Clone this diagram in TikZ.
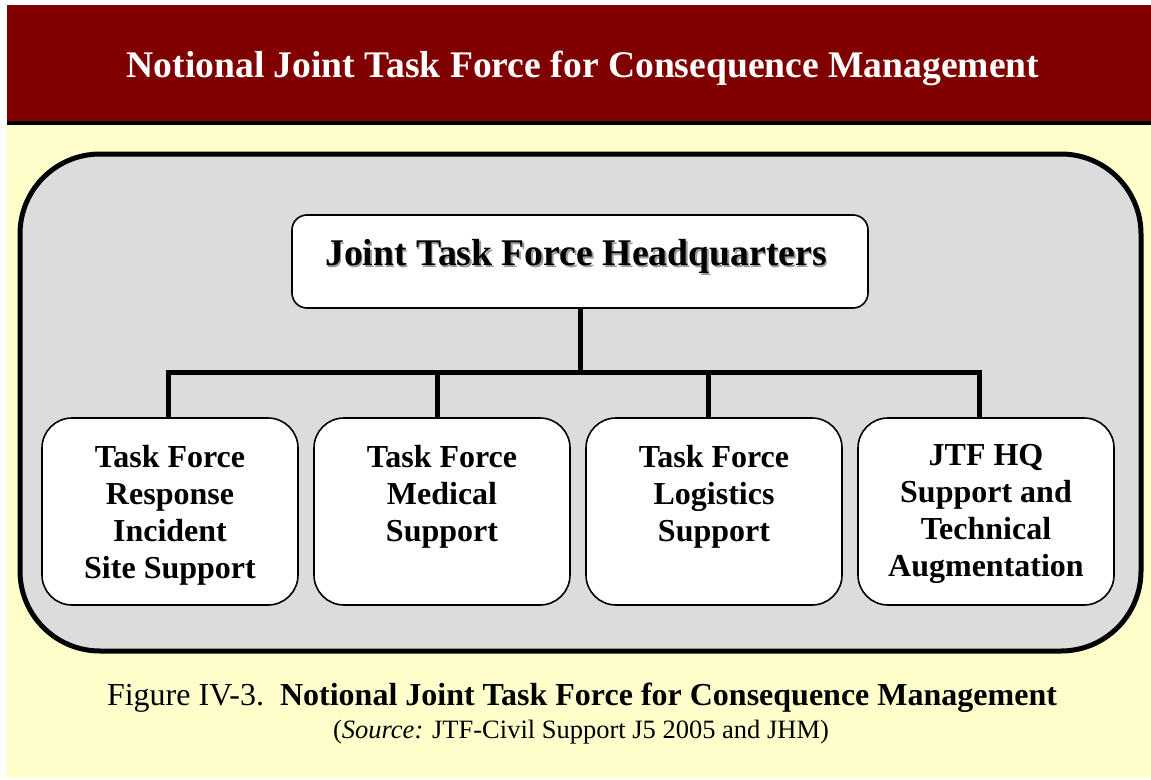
\documentclass[tikz,border=0pt]{standalone}
\usepackage{fontspec}
\setmainfont{Liberation Serif}
\definecolor{barred}{HTML}{800000}
\definecolor{bgyellow}{HTML}{FFFFCC}
\definecolor{panelgray}{HTML}{DCDCDC}
\begin{document}
\begin{tikzpicture}[x=1pt,y=-1pt,
  titletext/.style={text=white,font=\bfseries\fontsize{37.6}{45}\selectfont,inner sep=0pt},
  panelbox/.style={draw=black,line width=5pt,fill=panelgray,rounded corners=80pt,minimum width=1121pt,minimum height=497pt,inner sep=0pt},
  hqbox/.style={draw=black,line width=1.6pt,fill=white,rounded corners=15pt,minimum width=576pt,minimum height=93pt,inner sep=0pt},
  hqtext/.style={font=\bfseries\fontsize{37.7}{45}\selectfont,inner sep=0pt},
  unitbox/.style={draw=black,line width=1.6pt,fill=white,rounded corners=30pt,minimum width=256pt,minimum height=187pt,inner sep=0pt},
  unittext/.style={font=\bfseries\fontsize{32}{37}\selectfont,align=center,inner sep=0pt,anchor=north},
  conn/.style={draw=black,line width=5pt,line join=miter},
  captext/.style={inner sep=0pt,anchor=base}]
\useasboundingbox (0,0) rectangle (1151,779);
\fill[white] (0,0) rectangle (1151,779);
\fill[bgyellow] (7,125) rectangle (1151,778);
\fill[barred] (7,5) rectangle (1151,121);
\draw[line width=4pt] (7,123) -- (1151,123);
\node[titletext,anchor=base] (title) at (583,77) {Notional Joint Task Force for Consequence Management};
\node[panelbox] (panel) at (580.5,402.5) {};
\node[hqbox] (hq) at (580,261.5) {};
\node[hqtext,text=gray!80,anchor=base] (hqshadow) at (577.5,267.5) {Joint Task Force Headquarters};
\node[hqtext,anchor=base] (hqlabel) at (576,265) {Joint Task Force Headquarters};
\node[unitbox] (b1) at (170,511.5) {};
\node[unitbox] (b2) at (442,511.5) {};
\node[unitbox] (b3) at (714,511.5) {};
\node[unitbox] (b4) at (986,511.5) {};
\node[unittext] (l1) at (170,444.6) {Task Force\\Response\\Incident\\Site Support};
\node[unittext] (l2) at (442,444.6) {Task Force\\Medical\\Support};
\node[unittext] (l3) at (714,444.6) {Task Force\\Logistics\\Support};
\node[unittext] (l4) at (986,444.6) {JTF HQ\\Support and\\Technical\\Augmentation};
\coordinate (bus) at (580,372);
\coordinate (t1) at (168,418);
\coordinate (t2) at (437,418);
\coordinate (t3) at (708,418);
\coordinate (t4) at (979,418);
\draw[conn] (hq.south) -- (hq.south |- bus);
\draw[conn] (t1) |- (t4 |- bus) -- (t4);
\draw[conn] (t2) -- (t2 |- bus);
\draw[conn] (t3) -- (t3 |- bus);
\node[captext] (cap) at (582,705) {\fontsize{32}{38}\selectfont Figure IV-3.\ \ \textbf{Notional Joint Task Force for Consequence Management}};
\node[captext] (src) at (581,738) {\fontsize{26.5}{32}\selectfont (\textit{Source:} JTF-Civil Support J5 2005 and JHM)};
\end{tikzpicture}
\end{document}
